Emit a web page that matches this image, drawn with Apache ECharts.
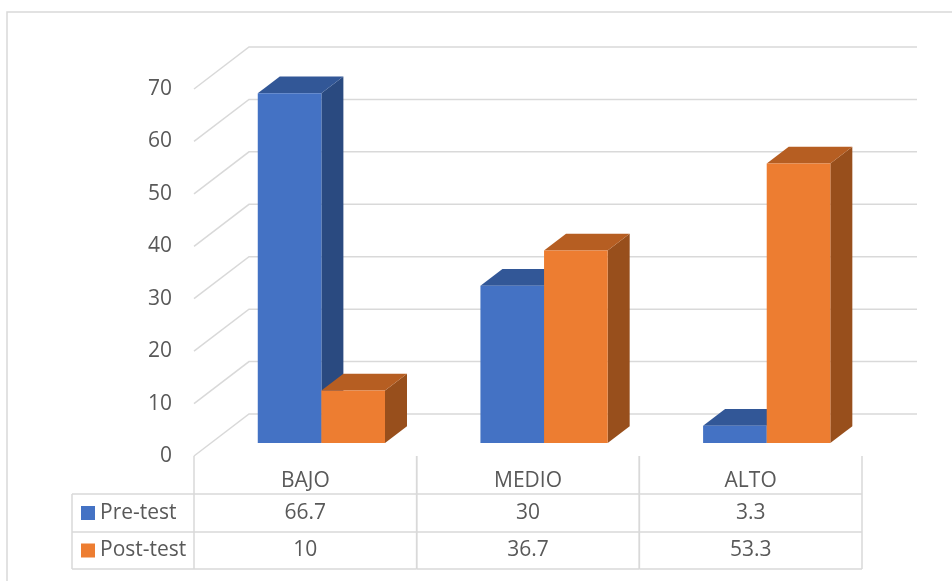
<!DOCTYPE html>
<html>
<head>
<meta charset="utf-8">
<script src="https://cdn.jsdelivr.net/npm/echarts@6/dist/echarts.min.js"></script>
<style>
  html, body { margin: 0; padding: 0; background: #fff; }
  #chart { width: 952px; height: 581px; }
</style>
</head>
<body>
<div id="chart"></div>
<script>
// Nivel alcanzado por los estudiantes (%), antes y después
const categories = ['BAJO', 'MEDIO', 'ALTO'];
const seriesNames = ['Pre-test', 'Post-test'];
const preTest = [66.7, 30, 3.3];
const postTest = [10, 36.7, 53.3];
const yTicks = [0, 10, 20, 30, 40, 50, 60, 70];

// face colours: front, top, side
const palette = [
  { front: '#4472C4', top: '#325797', side: '#2A4A80' },
  { front: '#ED7D31', top: '#B65E22', side: '#984F1C' }
];

const TEXT = '#595959';
const LINE = '#D9D9D9';
const FONT = '"Open Sans", Lato, sans-serif';
const FONT_SIZE = 21;

// oblique projection of the depth axis (pixels for the full floor depth)
const DEPTH = { dx: 55, dy: -42 };
const BAR_FRONT = 0.31;   // fraction of depth where bar front faces sit
const BAR_BACK = 0.71;    // fraction of depth where bar back faces sit

const GRID = { left: 194, top: 89, right: 90, bottom: 125 };
const ROW_H = [38, 38, 37]; // header row, Pre-test row, Post-test row
const TABLE_LEFT = 72;

const chart = echarts.init(document.getElementById('chart'), null, { renderer: 'canvas' });

// back wall and side wall gridlines, one per tick value
function renderWalls(params, api) {
  const cs = params.coordSys;
  const y = api.coord([0, api.value(1)])[1];
  return {
    type: 'polyline',
    shape: {
      points: [
        [cs.x, y],
        [cs.x + DEPTH.dx, y + DEPTH.dy],
        [cs.x + cs.width + DEPTH.dx, y + DEPTH.dy]
      ]
    },
    style: { stroke: LINE, lineWidth: 1.5, fill: null },
    silent: true
  };
}

// 3D box for one bar; side 0 sits left of the category centre, side 1 right
function makeBoxRenderer(side) {
  const col = palette[side];
  return function (params, api) {
    const i = api.value(0);
    const v = api.value(1);
    const top = api.coord([i, v]);
    const base = api.coord([i, 0]);
    const band = api.size([1, 0])[0];
    const bw = band / 3.5; // gap width 150%
    const fdx = DEPTH.dx * BAR_FRONT, fdy = DEPTH.dy * BAR_FRONT;
    const ddx = DEPTH.dx * (BAR_BACK - BAR_FRONT), ddy = DEPTH.dy * (BAR_BACK - BAR_FRONT);
    const x0 = (side === 0 ? top[0] - bw : top[0]) + fdx - 1;
    const x1 = x0 + bw;
    const yt = top[1] + fdy;
    const yb = base[1] + fdy;
    return {
      type: 'group',
      children: [
        {
          type: 'polygon',
          shape: { points: [[x1, yt], [x1 + ddx, yt + ddy], [x1 + ddx, yb + ddy], [x1, yb]] },
          style: { fill: col.side }
        },
        {
          type: 'polygon',
          shape: { points: [[x0, yt], [x1, yt], [x1 + ddx, yt + ddy], [x0 + ddx, yt + ddy]] },
          style: { fill: col.top }
        },
        {
          type: 'rect',
          shape: { x: x0, y: yt, width: bw, height: yb - yt },
          style: { fill: col.front }
        }
      ]
    };
  };
}

// data table column for one category: borders and the two values
function renderTableColumn(params, api) {
  const i = api.value(0);
  const cx = api.coord([i, 0])[0];
  const y0 = api.coord([i, 0])[1];
  const band = api.size([1, 0])[0];
  const xl = cx - band / 2, xr = cx + band / 2;
  const r1 = y0 + ROW_H[0], r2 = r1 + ROW_H[1], r3 = r2 + ROW_H[2];
  const ls = { stroke: LINE, lineWidth: 1.5 };
  const txt = (t, y) => ({
    type: 'text',
    style: {
      text: t, x: cx, y: y, align: 'center', verticalAlign: 'middle',
      fontSize: FONT_SIZE, fontFamily: FONT, fill: TEXT
    }
  });
  return {
    type: 'group',
    children: [
      { type: 'line', shape: { x1: xl, y1: y0, x2: xl, y2: r3 }, style: ls },
      { type: 'line', shape: { x1: xr, y1: y0, x2: xr, y2: r3 }, style: ls },
      { type: 'line', shape: { x1: xl, y1: r1, x2: xr, y2: r1 }, style: ls },
      { type: 'line', shape: { x1: xl, y1: r2, x2: xr, y2: r2 }, style: ls },
      { type: 'line', shape: { x1: xl, y1: r3, x2: xr, y2: r3 }, style: ls },
      txt(String(api.value(1)), (r1 + r2) / 2),
      txt(String(api.value(2)), (r2 + r3) / 2)
    ]
  };
}

// legend column on the left of the data table
const gridBottomY = 581 - GRID.bottom;
const legendRows = [];
const lr1 = gridBottomY + ROW_H[0];
const lr2 = lr1 + ROW_H[1];
const lr3 = lr2 + ROW_H[2];
const legendLine = { stroke: LINE, lineWidth: 1.5 };
legendRows.push(
  { type: 'line', shape: { x1: TABLE_LEFT, y1: lr1, x2: GRID.left, y2: lr1 }, style: legendLine },
  { type: 'line', shape: { x1: TABLE_LEFT, y1: lr2, x2: GRID.left, y2: lr2 }, style: legendLine },
  { type: 'line', shape: { x1: TABLE_LEFT, y1: lr3, x2: GRID.left, y2: lr3 }, style: legendLine },
  { type: 'line', shape: { x1: TABLE_LEFT, y1: lr1, x2: TABLE_LEFT, y2: lr3 }, style: legendLine }
);
seriesNames.forEach((name, k) => {
  const cy = k === 0 ? (lr1 + lr2) / 2 : (lr2 + lr3) / 2;
  legendRows.push(
    { type: 'rect', shape: { x: 81, y: cy - 7, width: 14, height: 14 }, style: { fill: palette[k].front } },
    {
      type: 'text',
      style: {
        text: name, x: 100, y: cy, align: 'left', verticalAlign: 'middle',
        fontSize: FONT_SIZE, fontFamily: FONT, fill: TEXT
      }
    }
  );
});

const option = {
  animation: false,
  backgroundColor: '#fff',
  grid: GRID,
  xAxis: {
    type: 'category',
    data: categories,
    axisLine: { show: false },
    axisTick: { show: false },
    splitLine: { show: false },
    axisLabel: { color: TEXT, fontSize: FONT_SIZE, fontFamily: FONT, margin: 15 }
  },
  yAxis: {
    type: 'value',
    min: 0,
    max: 70,
    interval: 10,
    axisLine: { show: false },
    axisTick: { show: false },
    splitLine: { show: false },
    axisLabel: {
      color: TEXT, fontSize: FONT_SIZE, fontFamily: FONT, margin: 22,
      padding: [6, 0, 0, 0]
    }
  },
  graphic: [
    {
      type: 'rect',
      shape: { x: 7, y: 12, width: 1000, height: 700 },
      style: { fill: null, stroke: LINE, lineWidth: 1.5 },
      silent: true,
      z: -10
    },
    { type: 'group', children: legendRows }
  ],
  series: [
    {
      type: 'custom',
      name: 'walls',
      renderItem: renderWalls,
      data: yTicks.map(t => [0, t]),
      clip: false,
      silent: true,
      z: 1
    },
    {
      type: 'custom',
      name: seriesNames[0],
      renderItem: makeBoxRenderer(0),
      data: preTest.map((v, i) => [i, v]),
      clip: false,
      z: 2
    },
    {
      type: 'custom',
      name: seriesNames[1],
      renderItem: makeBoxRenderer(1),
      data: postTest.map((v, i) => [i, v]),
      clip: false,
      z: 3
    },
    {
      type: 'custom',
      name: 'tabla',
      renderItem: renderTableColumn,
      data: categories.map((c, i) => [i, preTest[i], postTest[i]]),
      clip: false,
      silent: true,
      z: 4
    }
  ]
};

chart.setOption(option);
</script>
</body>
</html>
